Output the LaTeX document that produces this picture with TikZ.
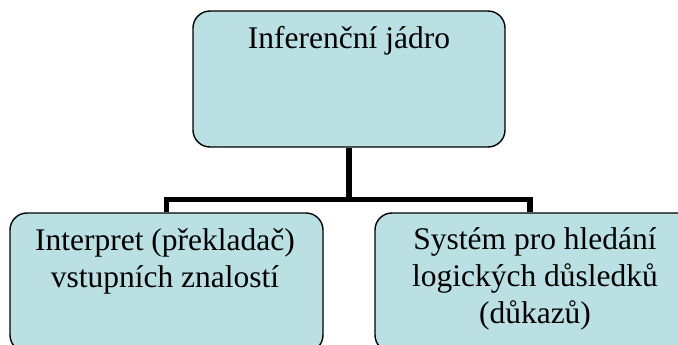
\documentclass[tikz,border=0pt]{standalone}
\usepackage{fontspec}
\setmainfont{Liberation Serif}
\usetikzlibrary{calc}
\definecolor{boxfill}{RGB}{187,224,227}
\begin{document}
\begin{tikzpicture}[x=1pt,y=1pt,
  boxnode/.style={draw=black, line width=1.4pt, fill=boxfill, rounded corners=17pt, inner sep=0pt},
  label/.style={font=\fontsize{31.5}{36.7}\selectfont, align=center, inner sep=0pt, anchor=base},
  conn/.style={line width=5.5pt, line join=miter}]
\useasboundingbox (0,0) rectangle (678,-345);
\clip (0,0) rectangle (678,-345);
\node[boxnode, minimum width=312pt, minimum height=136pt] (top) at (349,-79) {};
\node[boxnode, minimum width=313pt, minimum height=139pt] (left) at (166.5,-282.5) {};
\node[boxnode, minimum width=320pt, minimum height=139pt] (right) at (535,-282.5) {};
\node[label] (ttop) at (349,-49) {Inferenční jádro};
\node[label] (tleft) at (165,-287) {Interpret (překladač)\\vstupních znalostí};
\node[label] (tright) at (535,-323) {Systém pro hledání\\logických důsledků\\(důkazů)};
\coordinate (j) at ($(top.south)+(0,-52)$);
\draw[conn] (top.south) -- (j) -| (left.north);
\draw[conn] (j) -| ($(right.north)+(-5,0)$);
\end{tikzpicture}
\end{document}
